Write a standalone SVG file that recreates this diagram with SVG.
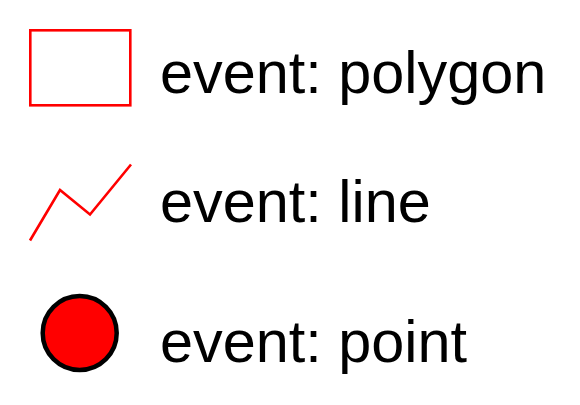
<svg xmlns="http://www.w3.org/2000/svg" width="580" height="405" viewBox="0 0 580 405">
<style>
.lbl{font-family:"Liberation Sans",Arial,sans-serif;font-size:59.4px;fill:#000}
.red{fill:none;stroke:#f00;stroke-width:2.6}
</style>
<rect width="580" height="405" fill="#fff"/>
<g id="polygon">
<rect class="red" x="30.3" y="30.3" width="100" height="75"/>
<text class="lbl" x="160" y="93">event: polygon</text>
</g>
<g id="line">
<polyline class="red" points="30,240.5 60,190 90,214.5 131,164.5"/>
<text class="lbl" x="160" y="222">event: line</text>
</g>
<g id="point">
<circle cx="79.7" cy="333" r="37" fill="#f00" stroke="#000" stroke-width="4.5"/>
<text class="lbl" x="160" y="362">event: point</text>
</g>
<g id="connectors"/>
</svg>
